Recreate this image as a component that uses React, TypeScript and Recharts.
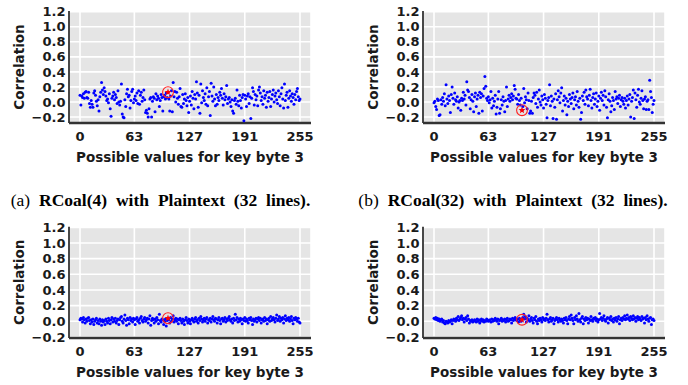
import React from 'react';
import {
  ScatterChart,
  Scatter,
  XAxis,
  YAxis,
  CartesianGrid,
} from 'recharts';

// x axis: candidate key byte values
const X_TICKS = [0, 63, 127, 191, 255];
const Y_TICKS = [-0.2, 0, 0.2, 0.4, 0.6, 0.8, 1.0, 1.2];
const CORRECT_KEY = 102;

const X_LABEL = 'Possible values for key byte 3';
const Y_LABEL = 'Correlation';
const CAPTIONS = [
  { tag: '(a)', text: 'RCoal(4) with Plaintext (32 lines).' },
  { tag: '(b)', text: 'RCoal(32) with Plaintext (32 lines).' },
];

// correlation per key guess
const corrTopLeft = [
  0.09, -0.04, 0.08, 0.06, 0.11, 0.05, 0.13, 0.14, 0.06, 0.05, 0.13, -0.02, -0.07, 0.02, -0.03, -0.07,
  0.12, 0.15, 0.09, 0.01, -0.05, 0.03, -0.12, 0.07, 0.13, 0.26, 0.16, 0.1, 0.19, 0.14, 0.08, 0.02,
  0.04, -0.01, 0.11, -0.09, -0.19, 0.05, 0.08, 0.13, 0.03, 0.1, 0.06, -0.02, 0.15, 0.0, -0.04, 0.01,
  0.24, -0.16, -0.2, -0.21, 0.03, -0.06, 0.11, 0.17, 0.07, 0.09, -0.08, 0.02, 0.14, 0.17, -0.01, 0.04,
  0.08, 0.02, 0.12, -0.02, 0.15, -0.03, 0.09, 0.13, 0.01, 0.06, 0.16, 0.03, -0.14, -0.11, -0.15, -0.2,
  -0.09, 0.04, 0.06, -0.2, 0.01, 0.07, 0.05, -0.13, 0.11, 0.03, 0.08, 0.05, -0.06, 0.02, 0.1, 0.06,
  -0.12, 0.07, 0.09, 0.04, 0.12, 0.06, 0.13, 0.04, -0.12, 0.08, 0.15, -0.13, 0.26, 0.07, 0.14, 0.0,
  0.13, 0.05, -0.03, 0.07, 0.18, -0.06, -0.07, 0.1, -0.02, 0.04, 0.11, 0.02, -0.05, 0.06, -0.14, 0.01,
  0.08, -0.04, 0.14, 0.05, -0.09, 0.1, 0.04, 0.27, 0.12, -0.07, 0.09, -0.15, 0.24, -0.01, 0.15, 0.06,
  0.02, 0.11, -0.03, 0.19, -0.05, 0.07, 0.14, -0.18, 0.25, 0.08, 0.01, 0.2, 0.04, -0.05, 0.1, -0.03,
  0.06, 0.02, 0.13, 0.09, 0.18, 0.05, -0.04, 0.11, 0.03, 0.07, 0.22, -0.02, 0.04, 0.06, 0.0, -0.06,
  0.03, -0.12, -0.15, 0.02, 0.05, -0.03, 0.16, 0.01, -0.05, 0.09, 0.02, -0.08, 0.06, 0.1, -0.25, 0.09,
  0.04, -0.06, 0.08, 0.11, -0.02, 0.07, -0.22, 0.05, 0.19, 0.14, -0.04, 0.1, 0.03, 0.08, -0.05, 0.16,
  0.2, 0.12, 0.02, 0.07, -0.03, 0.15, 0.05, 0.09, -0.07, 0.13, 0.01, 0.06, 0.14, -0.06, 0.04, 0.1,
  0.16, 0.0, 0.08, 0.12, 0.03, -0.02, 0.15, 0.07, -0.05, 0.11, 0.19, 0.04, -0.08, 0.24, 0.02, 0.09,
  0.13, -0.07, 0.05, 0.15, 0.08, 0.01, 0.11, 0.06, -0.03, 0.1, 0.03, 0.14, 0.18, 0.07, 0.02, 0.04,
];

const corrTopRight = [
  -0.01, 0.01, -0.06, -0.1, 0.04, 0.02, -0.18, -0.17, 0.03, -0.03, 0.06, 0.01, 0.11, -0.05, 0.23, 0.04,
  -0.02, 0.08, 0.02, -0.14, 0.1, 0.2, 0.05, -0.03, 0.12, 0.03, 0.01, 0.07, -0.08, 0.0, 0.02, -0.11,
  0.05, 0.02, 0.13, 0.04, 0.09, -0.04, 0.27, 0.16, 0.14, 0.06, -0.09, 0.03, 0.1, 0.01, -0.13, 0.07,
  0.12, -0.06, 0.04, 0.09, -0.15, 0.13, 0.06, 0.11, -0.12, 0.08, 0.18, 0.34, 0.21, 0.05, 0.02, 0.07,
  -0.01, 0.03, 0.14, -0.08, 0.05, -0.05, 0.01, 0.09, -0.16, -0.07, 0.04, 0.14, -0.15, -0.09, 0.03, -0.04,
  0.07, 0.01, -0.13, 0.02, 0.2, -0.06, 0.04, 0.09, 0.01, 0.06, 0.11, 0.03, 0.08, 0.22, 0.17, 0.05,
  0.04, -0.03, 0.1, 0.02, -0.04, 0.05, -0.11, -0.06, 0.18, -0.01, 0.07, 0.03, -0.09, 0.12, 0.02, -0.15,
  -0.12, 0.01, -0.15, 0.06, 0.12, 0.09, -0.02, 0.13, -0.07, 0.04, 0.16, 0.0, -0.04, 0.08, 0.03, -0.08,
  0.1, 0.05, -0.03, -0.21, 0.02, 0.06, 0.23, -0.05, 0.08, 0.01, -0.22, 0.04, -0.07, 0.11, -0.23, 0.03,
  0.15, 0.07, -0.01, 0.12, 0.19, -0.12, 0.02, 0.08, -0.04, 0.05, -0.17, 0.01, -0.06, 0.1, 0.04, -0.02,
  0.06, 0.12, -0.09, 0.03, 0.07, -0.04, 0.14, 0.01, -0.07, 0.05, -0.23, -0.14, 0.08, 0.02, 0.13, -0.03,
  0.16, 0.07, 0.04, -0.05, 0.09, 0.17, 0.02, -0.08, 0.06, 0.11, -0.03, 0.04, 0.12, -0.06, 0.01, 0.08,
  -0.11, 0.05, 0.13, 0.02, 0.09, -0.04, 0.15, 0.07, -0.07, -0.21, 0.03, 0.11, 0.01, -0.13, -0.05, 0.06,
  0.02, -0.1, 0.14, 0.04, 0.07, -0.02, 0.05, 0.09, -0.06, 0.03, 0.06, 0.01, -0.03, 0.05, -0.08, 0.02,
  0.08, -0.04, 0.04, 0.1, -0.2, 0.01, 0.06, 0.16, -0.22, 0.12, 0.03, -0.07, 0.09, 0.17, 0.0, -0.03,
  0.05, 0.15, 0.02, -0.09, 0.04, 0.07, -0.1, 0.01, 0.03, -0.1, 0.29, 0.14, 0.06, -0.14, -0.03, 0.02,
];

const corrBottomLeft = [
  0.02, 0.04, 0.03, -0.01, 0.05, 0.02, -0.02, 0.03, 0.0, 0.04, 0.05, 0.01, -0.03, 0.02, -0.01, 0.03,
  -0.04, 0.0, 0.02, 0.04, -0.02, 0.01, -0.03, 0.03, 0.0, -0.05, 0.02, -0.01, 0.01, -0.04, 0.03, 0.0,
  -0.02, 0.04, 0.01, -0.03, 0.02, 0.05, -0.01, 0.03, 0.0, 0.04, -0.02, 0.01, 0.03, -0.04, 0.02, 0.05,
  0.06, 0.0, -0.02, 0.03, 0.08, 0.01, -0.05, 0.04, 0.02, -0.03, 0.05, 0.01, 0.03, -0.01, 0.04, 0.02,
  -0.04, 0.03, 0.05, 0.0, 0.02, -0.02, 0.04, 0.06, 0.01, -0.01, 0.03, 0.05, 0.0, 0.02, 0.04, -0.02,
  0.03, 0.07, -0.05, 0.01, 0.04, 0.02, -0.02, 0.03, 0.0, 0.05, 0.02, -0.03, 0.09, 0.01, -0.01, 0.03,
  0.02, -0.04, 0.0, 0.03, -0.06, 0.01, 0.04, 0.02, -0.02, 0.05, 0.0, 0.03, 0.07, -0.01, 0.02, 0.04,
  0.0, 0.03, -0.03, 0.02, 0.04, 0.01, -0.02, 0.03, 0.0, -0.04, 0.02, 0.05, 0.01, -0.02, 0.03, 0.0,
  -0.03, 0.02, 0.04, 0.01, -0.01, 0.03, 0.05, 0.0, 0.02, -0.02, 0.04, 0.01, 0.06, 0.03, -0.01, 0.02,
  0.04, 0.0, 0.03, 0.05, -0.02, 0.02, 0.01, 0.04, -0.01, 0.03, 0.06, 0.02, 0.0, 0.04, 0.03, -0.02,
  0.02, 0.05, 0.01, -0.03, 0.03, 0.04, 0.0, 0.02, 0.05, -0.01, 0.03, 0.01, 0.04, 0.06, 0.02, 0.0,
  0.03, -0.02, 0.04, 0.01, 0.09, 0.02, 0.05, -0.01, 0.03, 0.0, 0.04, 0.02, -0.03, 0.03, 0.01, 0.05,
  0.0, 0.03, 0.01, -0.02, 0.04, 0.02, 0.05, 0.01, -0.04, 0.03, 0.0, 0.02, 0.04, -0.01, 0.03, 0.05,
  0.01, 0.04, -0.02, 0.02, 0.03, 0.0, 0.05, 0.01, 0.03, -0.03, 0.02, 0.04, 0.0, 0.06, 0.01, 0.03,
  0.05, 0.02, -0.01, 0.04, 0.08, 0.01, 0.03, 0.06, 0.0, 0.04, 0.02, 0.05, -0.02, 0.03, 0.07, 0.01,
  0.04, 0.02, 0.05, 0.0, 0.03, 0.06, 0.01, -0.03, 0.04, 0.02, 0.05, 0.03, 0.0, 0.04, -0.01, -0.02,
];

const corrBottomRight = [
  0.04, 0.03, 0.05, 0.02, 0.04, 0.01, 0.03, 0.0, 0.02, 0.03, -0.01, 0.01, -0.02, -0.03, 0.0, -0.01,
  -0.02, 0.01, -0.01, 0.0, 0.02, -0.03, 0.01, 0.03, 0.02, 0.0, 0.04, 0.02, 0.06, 0.01, 0.03, 0.05,
  0.07, 0.02, 0.04, -0.01, 0.03, 0.05, 0.01, 0.07, 0.03, -0.02, 0.01, 0.0, 0.02, -0.01, 0.0, 0.02,
  0.01, -0.01, 0.03, 0.0, 0.02, -0.02, 0.01, 0.03, 0.0, 0.02, -0.01, 0.01, 0.0, 0.03, 0.02, 0.0,
  0.01, 0.02, -0.01, 0.03, 0.0, 0.02, 0.01, 0.04, 0.02, 0.0, 0.03, -0.03, 0.01, 0.02, 0.04, 0.0,
  0.02, 0.01, 0.03, -0.01, 0.02, 0.04, 0.0, 0.01, 0.03, 0.02, -0.02, 0.04, 0.01, 0.03, 0.05, 0.02,
  0.01, 0.03, -0.01, 0.04, 0.02, 0.0, 0.02, 0.05, 0.09, 0.03, 0.06, -0.01, 0.04, 0.02, 0.07, 0.0,
  0.03, 0.05, 0.01, -0.02, 0.04, 0.02, 0.06, 0.0, -0.03, 0.03, 0.01, 0.04, 0.02, -0.01, 0.05, 0.02,
  0.03, 0.01, 0.04, 0.09, 0.02, -0.01, 0.03, 0.05, 0.0, 0.02, 0.04, -0.03, 0.01, 0.03, 0.05, 0.02,
  -0.01, 0.04, 0.02, 0.0, 0.03, 0.01, -0.02, 0.04, 0.02, 0.05, 0.01, -0.03, 0.03, 0.06, 0.02, 0.08,
  0.04, 0.01, -0.03, 0.05, 0.02, 0.07, 0.03, 0.0, 0.1, 0.02, -0.01, 0.04, 0.06, -0.03, 0.03, 0.01,
  0.05, 0.02, 0.04, -0.02, 0.03, 0.01, 0.06, 0.02, 0.0, 0.04, 0.03, 0.05, 0.01, 0.03, -0.01, 0.02,
  0.1, 0.03, 0.05, 0.01, 0.04, 0.07, 0.02, 0.0, 0.03, 0.05, -0.02, 0.04, 0.02, 0.06, 0.01, 0.03,
  -0.01, 0.04, 0.02, 0.05, 0.0, 0.03, 0.06, -0.03, 0.02, 0.04, 0.01, 0.05, 0.03, 0.07, 0.02, 0.04,
  0.08, 0.03, 0.05, 0.01, 0.06, 0.04, 0.02, 0.07, 0.03, 0.05, 0.0, 0.04, 0.06, 0.02, 0.05, 0.03,
  0.01, 0.06, 0.03, 0.04, -0.02, 0.05, 0.02, 0.07, 0.03, 0.0, 0.04, 0.05, -0.04, 0.02, 0.03, 0.01,
];

const FONT = '"DejaVu Sans", sans-serif';
const TEXT_COLOR = '#1a1a1a';
const FRAME = '#333333';

const fmtY = (v: number) =>
  v < 0 ? '\u2212' + Math.abs(v).toFixed(1) : v.toFixed(1);

const Dot = (props: any) => {
  const { cx, cy } = props;
  if (cx == null || cy == null) return null;
  return <circle cx={cx} cy={cy} r={1.5} fill="#0000ff" />;
};

// red star inside a red ring for the correct key
const KeyMarker = (props: any) => {
  const { cx, cy } = props;
  if (cx == null || cy == null) return null;
  const pts: string[] = [];
  for (let i = 0; i < 10; i++) {
    const r = i % 2 === 0 ? 3.6 : 1.5;
    const a = -Math.PI / 2 + (i * Math.PI) / 5;
    pts.push(`${cx + r * Math.cos(a)},${cy + r * Math.sin(a)}`);
  }
  return (
    <g>
      <circle cx={cx} cy={cy} r={5.4} fill="none" stroke="#ff2020" strokeWidth={1.1} />
      <polygon points={pts.join(' ')} fill="#ff0000" />
    </g>
  );
};

const XLabel = (props: any) => {
  const { viewBox } = props;
  if (!viewBox) return null;
  return (
    <text
      x={viewBox.x + viewBox.width / 2}
      y={viewBox.y + 39}
      textAnchor="middle"
      fontFamily={FONT}
      fontWeight="bold"
      fontSize={13.5}
      fill={TEXT_COLOR}
    >
      {X_LABEL}
    </text>
  );
};

const YLabel = (props: any) => {
  const { viewBox } = props;
  if (!viewBox) return null;
  const x = viewBox.x + viewBox.width - 50;
  const y = viewBox.y + viewBox.height / 2;
  return (
    <text
      x={x}
      y={y}
      transform={`rotate(-90 ${x} ${y})`}
      textAnchor="middle"
      dominantBaseline="central"
      fontFamily={FONT}
      fontWeight="bold"
      fontSize={13.5}
      fill={TEXT_COLOR}
    >
      {Y_LABEL}
    </text>
  );
};

interface PanelProps {
  left: number;
  top: number;
  values: number[];
  yDomain: [number, number];
  marginTop: number;
  marginRight: number;
  yAxisWidth: number;
}

function Panel({ left, top, values, yDomain, marginTop, marginRight, yAxisWidth }: PanelProps) {
  const points = values.map((y, x) => ({ x, y }));
  const keyPoint = [{ x: CORRECT_KEY, y: values[CORRECT_KEY] }];
  const tickStyle = { fontFamily: FONT, fontWeight: 'bold', fontSize: 13, fill: TEXT_COLOR };

  return (
    <div style={{ position: 'absolute', left, top }}>
      <ScatterChart
        width={344}
        height={170}
        margin={{ top: marginTop, right: marginRight, bottom: 0, left: 0 }}
      >
        <CartesianGrid fill="#e5e5e5" stroke="#ffffff" strokeWidth={1.6} />
        <XAxis
          type="number"
          dataKey="x"
          domain={[-12.75, 267.75]}
          ticks={X_TICKS}
          allowDataOverflow
          height={47}
          tickLine={false}
          tickSize={0}
          tickMargin={9}
          axisLine={{ stroke: FRAME, strokeWidth: 2.5 }}
          tick={tickStyle}
          label={<XLabel />}
        />
        <XAxis
          xAxisId="top"
          orientation="top"
          type="number"
          domain={[-12.75, 267.75]}
          height={0}
          tick={false}
          tickLine={false}
          axisLine={{ stroke: FRAME, strokeWidth: 1.8 }}
        />
        <YAxis
          type="number"
          dataKey="y"
          domain={yDomain}
          ticks={Y_TICKS}
          allowDataOverflow
          width={yAxisWidth}
          tickLine={false}
          tickSize={0}
          tickMargin={3.5}
          axisLine={{ stroke: FRAME, strokeWidth: 1.8 }}
          tick={tickStyle}
          tickFormatter={fmtY}
          interval={0}
          label={<YLabel />}
        />
        <YAxis
          yAxisId="right"
          orientation="right"
          type="number"
          domain={yDomain}
          width={0}
          tick={false}
          tickLine={false}
          axisLine={{ stroke: FRAME, strokeWidth: 1.8 }}
        />
        <Scatter data={points} shape={<Dot />} isAnimationActive={false} />
        <Scatter data={keyPoint} shape={<KeyMarker />} isAnimationActive={false} />
      </ScatterChart>
    </div>
  );
}

export default function App() {
  return (
    <div
      style={{
        position: 'absolute',
        left: 0,
        top: 0,
        width: 688,
        height: 385,
        background: '#ffffff',
        overflow: 'hidden',
      }}
    >
      <Panel left={0} top={0} values={corrTopLeft} yDomain={[-0.28, 1.21]} marginTop={11} marginRight={33} yAxisWidth={69} />
      <Panel left={344} top={0} values={corrTopRight} yDomain={[-0.28, 1.21]} marginTop={11} marginRight={23} yAxisWidth={79} />
      <Panel left={0} top={215} values={corrBottomLeft} yDomain={[-0.213, 1.208]} marginTop={11.7} marginRight={33} yAxisWidth={69} />
      <Panel left={344} top={215} values={corrBottomRight} yDomain={[-0.213, 1.208]} marginTop={11.7} marginRight={23} yAxisWidth={79} />
      <svg width={688} height={385} style={{ position: 'absolute', left: 0, top: 0, pointerEvents: 'none' }}>
        {CAPTIONS.map((c, i) => (
          <text
            key={c.tag}
            x={i === 0 ? 160.5 : 513}
            y={205.7}
            textAnchor="middle"
            fontFamily='"Liberation Serif", serif'
            fontSize={17.5}
            fill="#000"
            style={{ wordSpacing: '4.5px' }}
          >
            <tspan>{c.tag} </tspan>
            <tspan fontWeight="bold">{c.text}</tspan>
          </text>
        ))}
      </svg>
    </div>
  );
}
